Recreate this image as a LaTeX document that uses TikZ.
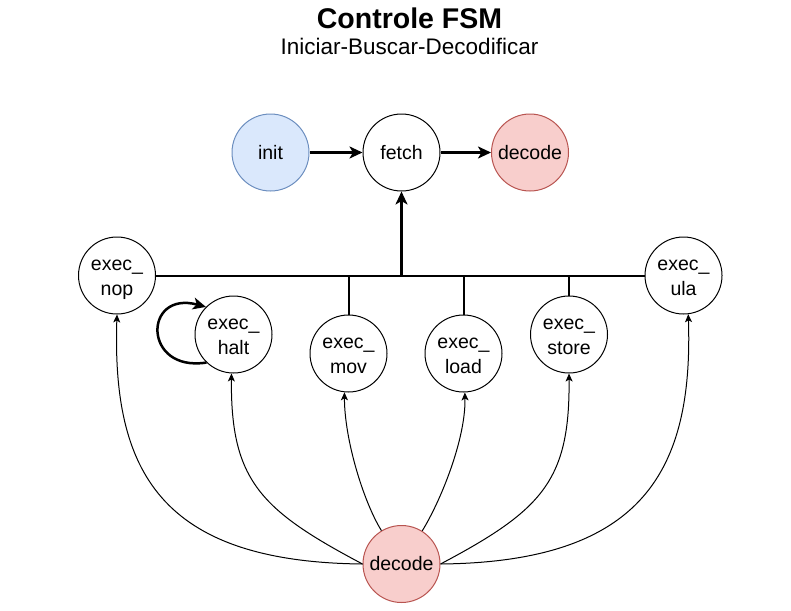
\documentclass[tikz,border=0pt]{standalone}
\usepackage{fontspec}
\setmainfont{Liberation Sans}
\usepackage{tikz}
\usetikzlibrary{arrows.meta}
\definecolor{initfill}{HTML}{DAE8FC}
\definecolor{initdraw}{HTML}{6C8EBF}
\definecolor{decfill}{HTML}{F8CECC}
\definecolor{decdraw}{HTML}{B85450}

\begin{document}
\begin{tikzpicture}[x=1pt,y=-1pt,
	state/.style={draw,circle,line width=1pt,minimum size=77pt,inner sep=0pt,
		align=center,font=\fontsize{19.5}{25}\selectfont},
	two lines/.style={text height=44pt,text depth=4pt},
	init state/.style={state,fill=initfill,draw=initdraw},
	dec state/.style={state,fill=decfill,draw=decdraw},
	bold arrow/.style={line width=2.5pt,-{Stealth[length=13pt,width=12pt,inset=3.5pt]}},
	thin arrow/.style={line width=1pt,-{Stealth[length=8pt,width=7pt,inset=2pt]}},
	bus/.style={line width=2pt}]
	\useasboundingbox (0,0) rectangle (791,610);
	\node[anchor=base,font=\fontsize{28.5}{34}\selectfont\bfseries] (title) at (409.5,28.3) {Controle FSM};
	\node[anchor=base,font=\fontsize{22.5}{27}\selectfont] (subtitle) at (409.5,55) {Iniciar-Buscar-Decodificar};
	\node[init state] (init) at (270.5,152.5) {init};
	\node[state] (fetch) at (401.5,152.5) {fetch};
	\node[dec state] (decA) at (530,152.5) {decode};
	\node[state,two lines] (nop) at (117,275.5) {exec\_\\nop};
	\node[state,two lines] (halt) at (233.5,334.5) {exec\_\\halt};
	\node[state,two lines] (mov) at (348.5,353.5) {exec\_\\mov};
	\node[state,two lines] (load) at (463.5,353.5) {exec\_\\load};
	\node[state,two lines] (store) at (569,334.5) {exec\_\\store};
	\node[state,two lines] (ula) at (683.5,275.5) {exec\_\\ula};
	\node[dec state] (decB) at (401.5,564) {decode};
	\draw[bold arrow] (init) -- (fetch);
	\draw[bold arrow] (fetch) -- (decA);
	\draw[bus] (nop) -- (ula);
	\draw[bus] (mov) -- (mov |- nop);
	\draw[bus] (load) -- (load |- nop);
	\draw[bus] (store) -- (store |- nop);
	\draw[bold arrow] (fetch |- nop) -- (fetch);
	\draw[bold arrow] (halt.226) .. controls +(-64,10) and +(-63,-17) .. (halt.135);
	\draw[thin arrow] (decB.west) .. controls +(-202.7,-2) and +(-5,156) .. (nop.270);
	\draw[thin arrow] (decB.west) .. controls +(-102,-54) and +(-1,107) .. (halt.267);
	\draw[thin arrow] (decB.121.5) .. controls +(-18,-29) and +(0,47) .. (mov.264);
	\draw[thin arrow] (decB.58.5) .. controls +(18,-29) and +(1,47) .. (load.272);
	\draw[thin arrow] (decB.east) .. controls +(102,-54) and +(1,107) .. (store.270);
	\draw[thin arrow] (decB.east) .. controls +(202.7,-2) and +(5,156) .. (ula.277);
\end{tikzpicture}
\end{document}
